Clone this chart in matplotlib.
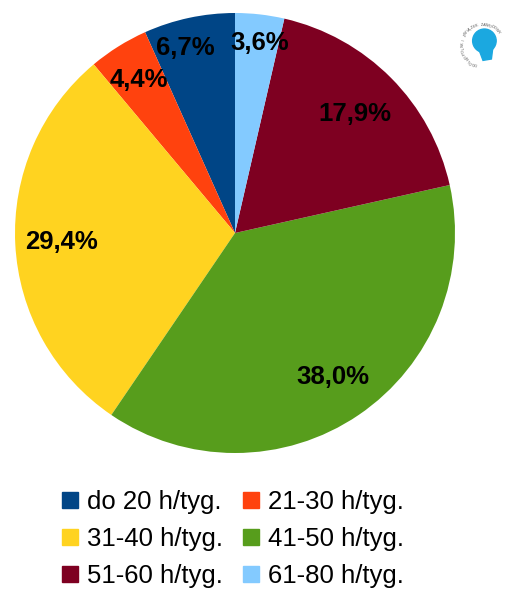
import numpy as np
import matplotlib
matplotlib.use("Agg")
import matplotlib.pyplot as plt
import matplotlib.patches as mpatches

plt.rcParams["font.family"] = ["Liberation Sans", "DejaVu Sans"]

categories = ["do 20 h/tyg.", "21-30 h/tyg.", "31-40 h/tyg.",
              "41-50 h/tyg.", "51-60 h/tyg.", "61-80 h/tyg."]
shares = [6.7, 4.4, 29.4, 38.0, 17.9, 3.6]
labels = ["6,7%", "4,4%", "29,4%", "38,0%", "17,9%", "3,6%"]
colors = ["#004586", "#ff420e", "#ffd320", "#579d1c", "#7e0021", "#83caff"]
label_dist = [0.87, 0.82, 0.79, 0.79, 0.77, 0.87]
label_angle_shift = [3, 0, 0, 0, 0, -1]

W, H = 505, 590
fig = plt.figure(figsize=(W / 100, H / 100), dpi=100)

# pie centred at (235, 233) px with radius 220 px
ax = fig.add_axes([15 / W, (H - 453) / H, 440 / W, 440 / H])
wedges, _ = ax.pie(shares, colors=colors, startangle=90, counterclock=True,
                   radius=1.0, wedgeprops=dict(linewidth=0))
ax.set_xlim(-1, 1)
ax.set_ylim(-1, 1)
ax.set_aspect("equal")
ax.axis("off")

for w, lab, d, s in zip(wedges, labels, label_dist, label_angle_shift):
    ang = np.deg2rad((w.theta1 + w.theta2) / 2 + s)
    ax.text(d * np.cos(ang), d * np.sin(ang), lab, ha="center", va="center",
            fontsize=18.5, fontweight="bold", color="black")

# legend
handles = [mpatches.Patch(color=c, label=l) for c, l in zip(colors, categories)]
order = [0, 2, 4, 1, 3, 5]
fig.legend([handles[i] for i in order], [categories[i] for i in order],
           ncol=2, loc="center", bbox_to_anchor=(233 / W, (H - 539) / H),
           frameon=False, fontsize=18.5, handlelength=0.6, handleheight=0.6,
           handletextpad=0.35, columnspacing=0.8, labelspacing=0.5,
           borderaxespad=0)

# small logo in the corner
lax = fig.add_axes([455 / W, (H - 73) / H, 56 / W, 56 / H])
lax.set_xlim(-1, 1)
lax.set_ylim(-1, 1)
lax.set_aspect("equal")
lax.axis("off")
lax.add_patch(mpatches.Circle((0.05, 0.15), 0.42, color="#1ba8e0"))
lax.add_patch(mpatches.Polygon([[-0.15, -0.15], [0.35, -0.1], [0.3, -0.5], [0.0, -0.55]],
                               color="#1ba8e0"))
ring = "OGÓLNOPOLSKI ZWIĄZEK ZAWODOWY"
for i, ch in enumerate(ring):
    a = np.deg2rad(250 - i * 7.5)
    lax.text(0.72 * np.cos(a), 0.72 * np.sin(a), ch, fontsize=2.8, color="#555555",
             rotation=np.rad2deg(a) - 90, ha="center", va="center")

fig.savefig("out.png", dpi=100, facecolor="white")
